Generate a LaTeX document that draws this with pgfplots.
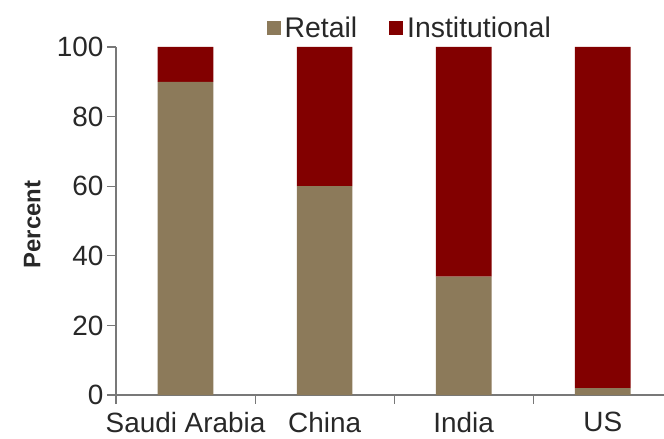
\documentclass[border=0pt]{standalone}
\usepackage{fontspec}
\setmainfont{Liberation Sans}
\usepackage{pgfplots}
\pgfplotsset{compat=1.18}
\definecolor{retail}{RGB}{140,122,90}
\definecolor{inst}{RGB}{130,0,0}
\definecolor{axgray}{RGB}{120,120,120}
\definecolor{txt}{RGB}{40,40,40}
\begin{document}
\begin{tikzpicture}
\begin{axis}[
  name=ax,
  scale only axis,
  width=548bp, height=348bp,
  ybar stacked,
  bar width=0.4,
  xmin=-0.5, xmax=3.44,
  ymin=0, ymax=100,
  axis x line*=bottom,
  axis y line*=left,
  axis line style={axgray, line width=1.1bp, -},
  ytick pos=left,
  xtick pos=bottom,
  ytick={0,20,40,60,80,100},
  xtick={0,1,2,3},
  xticklabels={Saudi Arabia, China, India, US},
  xtick style={draw=none},
  extra x ticks={0.5,1.5,2.5},
  extra x tick labels={},
  extra x tick style={xtick style={draw=axgray, line width=1.1bp}},
  tick align=outside,
  major tick length=9bp,
  ytick style={draw=axgray, line width=1.1bp},
  tick label style={font=\fontsize{28}{33}\selectfont, text=txt},
  xticklabel style={yshift=-5bp},
  /pgf/number format/assume math mode=true,
  every axis y label/.style={at={(axis description cs:-0.153,0.49)}, rotate=90, anchor=center,
    font=\fontsize{24}{28}\selectfont\bfseries, text=txt},
  ylabel={Percent},
  legend style={at={(0.536,1.055)}, anchor=center, draw=none, fill=none,
    font=\fontsize{28.5}{33}\selectfont, text=txt, legend columns=2,
    /tikz/every odd column/.append style={column sep=2bp},
    /tikz/every even column/.append style={column sep=30bp}},
  legend image code/.code={\fill[#1] (0bp,-7bp) rectangle (14bp,7bp);},
  clip=false,
]
\addplot[fill=retail, draw=none] coordinates {(0,90) (1,60) (2,34) (3,2)};
\addplot[fill=inst, draw=none] coordinates {(0,10) (1,40) (2,66) (3,98)};
\legend{Retail, Institutional}
\end{axis}
% y tick marks (as grid lines of a thin axis left of the main axis)
\begin{axis}[
  scale only axis, width=9bp, height=348bp,
  at={(ax.south west)}, anchor=south east,
  xmin=0, xmax=1, ymin=0, ymax=100,
  ytick={0,20,40,60,80,100}, xtick=\empty, yticklabels={},
  ymajorgrids, major grid style={draw=axgray, line width=1.1bp},
  axis line style={draw=none}, tick style={draw=none},
]
\end{axis}
% x tick mark at the left end of the x axis
\begin{axis}[
  scale only axis, width=27.82bp, height=9bp,
  at={(ax.south west)}, anchor=north,
  xmin=-0.6, xmax=-0.4, ymin=0, ymax=1,
  xtick={-0.5}, ytick=\empty, xticklabels={},
  xmajorgrids, major grid style={draw=axgray, line width=1.1bp},
  axis line style={draw=none}, tick style={draw=none},
]
\end{axis}
\pgfresetboundingbox
\path[use as bounding box] ([xshift=-116bp,yshift=-44bp]ax.south west) rectangle ([yshift=47bp]ax.north east);
\end{tikzpicture}
\end{document}
